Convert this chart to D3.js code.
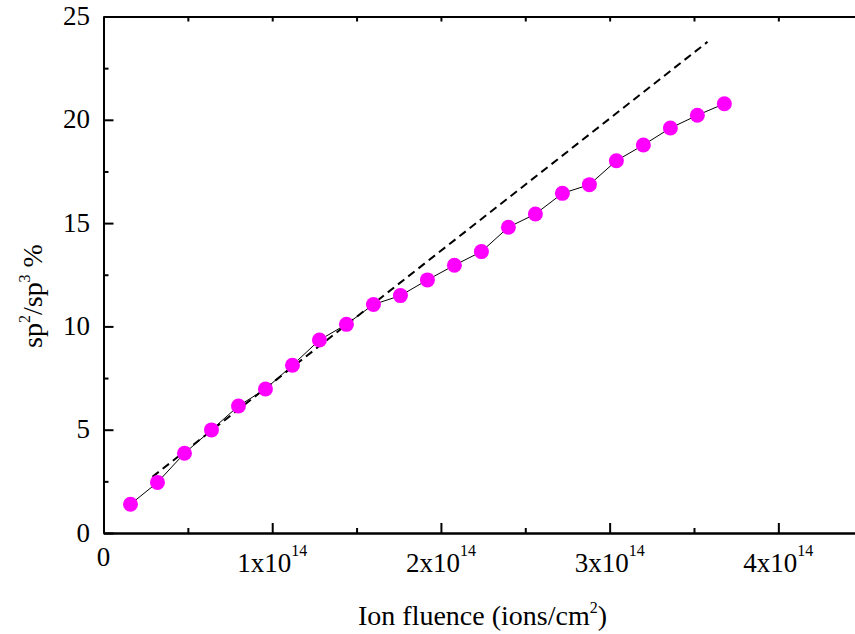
<!DOCTYPE html>
<html>
<head>
<meta charset="utf-8">
<script src="https://cdn.jsdelivr.net/npm/d3@7"></script>
<style>
  html, body { margin: 0; padding: 0; background: #fff; overflow: hidden; }
  svg { display: block; }
  text { font-family: "Liberation Serif", "Times New Roman", serif; fill: #000; }
</style>
</head>
<body>
<svg id="chart" width="855" height="634"></svg>
<script>
// ---- Data ----
const fluence = [0.16, 0.32, 0.48, 0.64, 0.80, 0.96, 1.12, 1.28, 1.44, 1.60, 1.76, 1.92,
                 2.08, 2.24, 2.40, 2.56, 2.72, 2.88, 3.04, 3.20, 3.36, 3.52, 3.68]; // x10^14 ions/cm^2
const ratio = [1.39, 2.45, 3.86, 4.99, 6.15, 6.97, 8.12, 9.34, 10.10, 11.06, 11.49, 12.25,
               12.96, 13.62, 14.80, 15.44, 16.44, 16.86, 18.02, 18.78, 19.60, 20.22, 20.78];
const fitX = [0.29, 3.58];
const fitY = [2.72, 23.77];
const xTicks = [0, 1, 2, 3, 4];
const xTickLabels = ["0", "1x10", "2x10", "3x10", "4x10"];
const xTickSup = ["", "14", "14", "14", "14"];
const xMinor = [0.5, 1.5, 2.5, 3.5, 4.5];
const yTicks = [0, 5, 10, 15, 20, 25];
const yMinor = [2.5, 7.5, 12.5, 17.5, 22.5];

const svg = d3.select("#chart");
const x = d3.scaleLinear().domain([0, 4.5]).range([103.5, 862.7]);
const y = d3.scaleLinear().domain([0, 25]).range([533, 16.5]);

// ---- Fit (dashed) line ----
const fitData = fitX.map((v, i) => [v, fitY[i]]);
svg.append("path")
  .datum(fitData)
  .attr("d", d3.line().x(d => x(d[0])).y(d => y(d[1])))
  .attr("fill", "none").attr("stroke", "#000")
  .attr("stroke-width", 2).attr("stroke-dasharray", "8,5");

// ---- Data line and markers ----
const pts = fluence.map((v, i) => [v, ratio[i]]);
svg.append("path")
  .datum(pts)
  .attr("d", d3.line().x(d => x(d[0])).y(d => y(d[1])))
  .attr("fill", "none").attr("stroke", "#000").attr("stroke-width", 1);
svg.selectAll("circle.pt").data(pts).enter().append("circle")
  .attr("class", "pt")
  .attr("cx", d => x(d[0])).attr("cy", d => y(d[1]))
  .attr("r", 7.5).attr("fill", "#ff00ff");

// ---- Axes (ticks inward) ----
function styleAxis(g) {
  g.select(".domain").attr("stroke", "#000").attr("stroke-width", 2);
  g.selectAll(".tick line").attr("stroke", "#000").attr("stroke-width", 2);
  g.selectAll(".tick text").remove();
}
// bottom major
svg.append("g").attr("transform", `translate(0,${y(0)})`)
  .call(d3.axisBottom(x).tickValues(xTicks).tickSizeInner(-10).tickSizeOuter(0))
  .call(styleAxis);
// bottom minor
svg.append("g").attr("transform", `translate(0,${y(0)})`)
  .call(d3.axisBottom(x).tickValues(xMinor).tickSizeInner(-5).tickSizeOuter(0))
  .call(styleAxis);
// top (all ticks small, inward)
svg.append("g").attr("transform", `translate(0,${y(25)})`)
  .call(d3.axisTop(x).tickValues(xTicks.concat(xMinor)).tickSizeInner(-5).tickSizeOuter(0))
  .call(styleAxis);
// left major
svg.append("g").attr("transform", `translate(${x(0)},0)`)
  .call(d3.axisLeft(y).tickValues(yTicks).tickSizeInner(-10).tickSizeOuter(0))
  .call(styleAxis);
// left minor
svg.append("g").attr("transform", `translate(${x(0)},0)`)
  .call(d3.axisLeft(y).tickValues(yMinor).tickSizeInner(-5).tickSizeOuter(0))
  .call(styleAxis);

// ---- Tick labels ----
yTicks.forEach(v => {
  svg.append("text")
    .attr("x", 90).attr("y", y(v) + 8.5)
    .attr("text-anchor", "end")
    .attr("font-size", 27)
    .text(v);
});
xTicks.forEach((v, i) => {
  const t = svg.append("text")
    .attr("x", x(v))
    .attr("y", xTickSup[i] ? 571.5 : 565.5)
    .attr("text-anchor", "middle")
    .attr("font-size", 27);
  t.append("tspan").text(xTickLabels[i]);
  if (xTickSup[i]) {
    t.append("tspan").attr("font-size", 16).attr("dy", -16).text(xTickSup[i]);
  }
});

// ---- Axis titles ----
const xt = svg.append("text")
  .attr("x", 482.5).attr("y", 625)
  .attr("text-anchor", "middle").attr("font-size", 28);
xt.append("tspan").text("Ion fluence (ions/cm");
xt.append("tspan").attr("font-size", 16).attr("dy", -12).text("2");
xt.append("tspan").attr("dy", 12).text(")");

const yt = svg.append("text")
  .attr("transform", "translate(41.7,296) rotate(-90)")
  .attr("text-anchor", "middle").attr("font-size", 28);
yt.append("tspan").text("sp");
yt.append("tspan").attr("font-size", 16).attr("dy", -12).text("2");
yt.append("tspan").attr("dy", 12).text("/sp");
yt.append("tspan").attr("font-size", 16).attr("dy", -12).text("3");
yt.append("tspan").attr("dy", 12).text(" %");
</script>
</body>
</html>
